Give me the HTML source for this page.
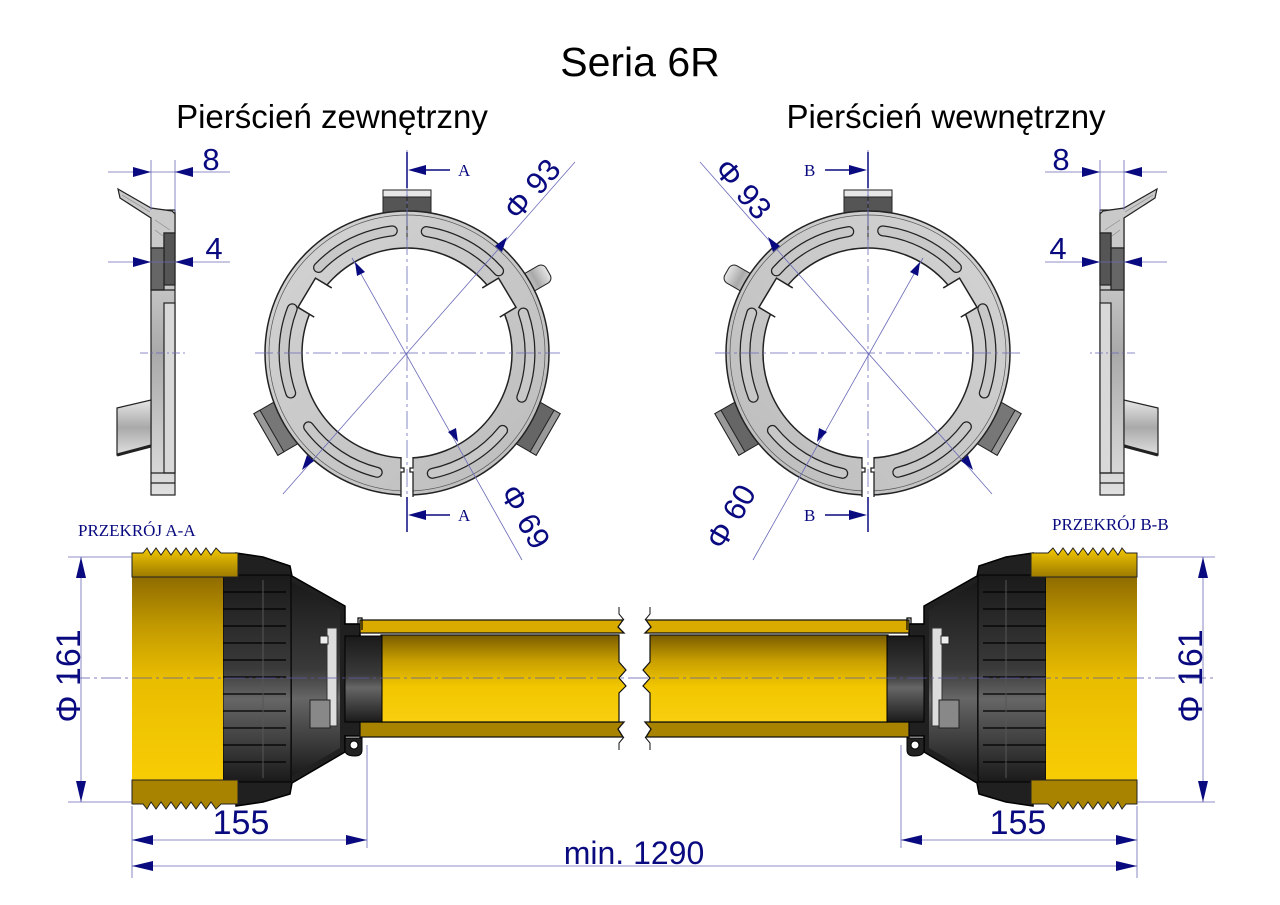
<!DOCTYPE html>
<html><head><meta charset="utf-8"><style>
html,body{margin:0;padding:0;background:#fff;}
svg{display:block;}
</style></head><body>
<svg width="1280" height="905" viewBox="0 0 1280 905" xmlns="http://www.w3.org/2000/svg">
<defs>
<linearGradient id="gy" x1="0" y1="0" x2="0" y2="1">
<stop offset="0" stop-color="#8d6a00"/><stop offset="0.25" stop-color="#c29a00"/><stop offset="0.5" stop-color="#e9bd00"/><stop offset="1" stop-color="#f8cd05"/></linearGradient>
<linearGradient id="gt" x1="0" y1="0" x2="0" y2="1">
<stop offset="0" stop-color="#7a5c00"/><stop offset="0.3" stop-color="#c9a000"/><stop offset="0.6" stop-color="#f2c700"/><stop offset="1" stop-color="#f8cf10"/></linearGradient>
<linearGradient id="gth" x1="0" y1="0" x2="0" y2="1">
<stop offset="0" stop-color="#f3c800"/><stop offset="1" stop-color="#9c7a00"/></linearGradient>
<linearGradient id="gk" x1="0" y1="0" x2="0" y2="1">
<stop offset="0" stop-color="#1a1a1a"/><stop offset="0.45" stop-color="#3a3a3a"/><stop offset="0.6" stop-color="#666"/><stop offset="1" stop-color="#1a1a1a"/></linearGradient>
<linearGradient id="gr" x1="0" y1="0" x2="1" y2="1">
<stop offset="0" stop-color="#d4d4d4"/><stop offset="1" stop-color="#bcbcbc"/></linearGradient>
<linearGradient id="gp" x1="0" y1="0" x2="0" y2="1">
<stop offset="0" stop-color="#e6e6e6"/><stop offset="0.5" stop-color="#a9a9a9"/><stop offset="1" stop-color="#e0e0e0"/></linearGradient>

<g id="ring">
 <g stroke="#222" stroke-width="1">
  <g><rect x="383" y="190" width="48" height="25" fill="#555"/><rect x="383" y="190" width="48" height="7" fill="#e6e6e6"/></g>
  <g transform="rotate(240 407 353)"><rect x="383" y="190" width="48" height="25" fill="#777"/><rect x="383" y="190" width="48" height="7" fill="#999"/></g>
  <g transform="rotate(120 407 353)"><rect x="383" y="190" width="48" height="25" fill="#666"/><rect x="383" y="190" width="48" height="7" fill="#999"/></g>
  <g transform="rotate(60 407 353)"><rect x="397" y="190" width="20" height="30" rx="6" fill="url(#gp)"/></g>
 </g>
 <circle cx="407" cy="353" r="142" fill="url(#gr)" stroke="#222" stroke-width="1.5"/>
 <circle cx="407" cy="353" r="138" fill="none" stroke="#555" stroke-width="0.7"/>
 <circle cx="407" cy="353" r="105" fill="#fff" stroke="#222" stroke-width="1.5"/>
 <g fill="#fff" stroke="#222" stroke-width="1.5">
  <path transform="rotate(-149 407 353)" d="M505,336 H524 V370 H505"/>
  <path transform="rotate(-31 407 353)" d="M505,336 H524 V370 H505"/>
 </g>
 <rect x="401" y="455" width="12" height="45" fill="#fff"/>
 <path d="M401,457 V468 H404 V472 H401 V497 M413,457 V468 H410 V472 H413 V497" fill="none" stroke="#222" stroke-width="1.3"/>
 <g fill="none" stroke-linecap="round">
  <g stroke="#222" stroke-width="11">
   <circle cx="407" cy="353" r="123" stroke-dasharray="84 900" transform="rotate(-136 407 353)"/>
   <circle cx="407" cy="353" r="123" stroke-dasharray="84 900" transform="rotate(-81 407 353)"/>
   <circle cx="407" cy="353" r="123" stroke-dasharray="86 900" transform="rotate(161 407 353)"/>
   <circle cx="407" cy="353" r="123" stroke-dasharray="86 900" transform="rotate(-19 407 353)"/>
   <circle cx="407" cy="353" r="123" stroke-dasharray="84 900" transform="rotate(104 407 353)"/>
   <circle cx="407" cy="353" r="123" stroke-dasharray="84 900" transform="rotate(39 407 353)"/>
  </g>
  <g stroke="#c8c8c8" stroke-width="8.5">
   <circle cx="407" cy="353" r="123" stroke-dasharray="84 900" transform="rotate(-136 407 353)"/>
   <circle cx="407" cy="353" r="123" stroke-dasharray="84 900" transform="rotate(-81 407 353)"/>
   <circle cx="407" cy="353" r="123" stroke-dasharray="86 900" transform="rotate(161 407 353)"/>
   <circle cx="407" cy="353" r="123" stroke-dasharray="86 900" transform="rotate(-19 407 353)"/>
   <circle cx="407" cy="353" r="123" stroke-dasharray="84 900" transform="rotate(104 407 353)"/>
   <circle cx="407" cy="353" r="123" stroke-dasharray="84 900" transform="rotate(39 407 353)"/>
  </g>
 </g>
 <line x1="407" y1="195" x2="407" y2="240" stroke="#222" stroke-width="1"/>
 <g stroke="#6a6ab8" stroke-width="0.8" stroke-dasharray="18 4 3 4" fill="none">
  <line x1="407" y1="150" x2="407" y2="530"/>
  <line x1="255" y1="353" x2="560" y2="353"/>
 </g>
 <g stroke="#6a6ab8" stroke-width="0.8">
  <line x1="575" y1="162" x2="283" y2="494"/>
  <line x1="352" y1="258" x2="522" y2="560"/>
 </g>
 <g fill="#0a0a80">
  <polygon points="507,237 495,246 502,252"/>
  <polygon points="302,470 314,461 307,455"/>
  <polygon points="355,262 357,276 365,272"/>
  <polygon points="458,442 456,428 448,432"/>
 </g>
 <g stroke="#0a0a80" stroke-width="1.5">
  <line x1="407" y1="152" x2="407" y2="188"/>
  <line x1="420" y1="170" x2="450" y2="170"/>
  <line x1="407" y1="497" x2="407" y2="532"/>
  <line x1="420" y1="515" x2="450" y2="515"/>
 </g>
 <g fill="#0a0a80">
  <polygon points="408,170 426,165 426,175"/>
  <polygon points="408,515 426,510 426,520"/>
 </g>
</g>

<g id="prof">
 <g stroke="#222" stroke-width="1.2">
  <rect x="151" y="210" width="24" height="285" fill="url(#gp)"/>
  <polygon points="118,189 151,208 172,211 175,214 175,233 164,233 164,248 151,248 151,218 120,198" fill="#c9c9c9"/>
  <rect x="164" y="233" width="11" height="52" fill="#555"/>
  <rect x="151" y="248" width="13" height="42" fill="#666"/>
  <rect x="164" y="303" width="11" height="170" fill="#d8d8d8"/>
  <polygon points="117,408 151,400 151,445 117,455" fill="url(#gp)"/>
  <line x1="117" y1="455" x2="151" y2="446" stroke-width="3"/>
  <line x1="151" y1="473" x2="175" y2="473"/>
  <line x1="151" y1="483" x2="175" y2="483"/>
  <line x1="151" y1="290" x2="175" y2="290"/>
 </g>
 <g stroke="#888" stroke-width="0.6"><line x1="122" y1="195" x2="150" y2="212"/><line x1="155" y1="220" x2="170" y2="230"/><line x1="155" y1="230" x2="163" y2="236"/></g>
 <line x1="140" y1="353" x2="185" y2="353" stroke="#6a6ab8" stroke-width="0.7" stroke-dasharray="8 3 2 3"/>
 <g stroke="#6a6ab8" stroke-width="0.8">
  <line x1="151" y1="160" x2="151" y2="210"/><line x1="175" y1="160" x2="175" y2="212"/>
  <line x1="108" y1="172" x2="230" y2="172"/>
  <line x1="108" y1="262" x2="230" y2="262"/>
 </g>
 <g fill="#0a0a80">
  <polygon points="151,172 133,167 133,177"/><polygon points="175,172 193,167 193,177"/>
  <polygon points="151,262 133,257 133,267"/><polygon points="175,262 193,257 193,267"/>
 </g>
</g>

<g id="asm">
 <path d="M236,553 L263,557 L290,566 L292,576 L345,606 L345,624 L360,624 L360,736 L345,736 L345,752 L292,783 L290,794 L263,802 L236,806 Z" fill="#202020" stroke="#000" stroke-width="1.5"/>
 <path d="M292,582 L340,610 L340,748 L292,776 Z" fill="url(#gk)"/>
 <rect x="223" y="575" width="68" height="207" fill="url(#gk)" stroke="#000"/>
 <g stroke="#000" stroke-width="1.3">
  <line x1="223" y1="592" x2="286" y2="592"/><line x1="223" y1="609" x2="286" y2="609"/><line x1="223" y1="626" x2="286" y2="626"/>
  <line x1="223" y1="643" x2="286" y2="643"/><line x1="223" y1="660" x2="286" y2="660"/><line x1="223" y1="677" x2="286" y2="677"/>
  <line x1="223" y1="694" x2="286" y2="694"/><line x1="223" y1="711" x2="286" y2="711"/><line x1="223" y1="728" x2="286" y2="728"/>
  <line x1="223" y1="745" x2="286" y2="745"/><line x1="223" y1="762" x2="286" y2="762"/>
 </g>
 <line x1="263" y1="580" x2="263" y2="778" stroke="#555" stroke-width="1"/>
 <rect x="327" y="628" width="10" height="98" fill="#ddd" stroke="#333"/>
 <rect x="310" y="700" width="20" height="28" fill="#888" stroke="#222"/>
 <rect x="320" y="636" width="8" height="8" fill="#eee" stroke="#222"/>
 <rect x="132" y="575" width="91" height="207" fill="url(#gy)"/>
 <path d="M132,553 H143 L147,548 L151,555 L156,548 L161,555 L166,548 L171,555 L176,548 L181,555 L186,548 L191,555 L196,548 L201,555 L206,548 L211,555 L216,548 L221,553 H238 V577 H132 Z" fill="url(#gth)" stroke="#222" stroke-width="1"/>
 <path d="M132,780 H238 V804 H221 L216,809 L211,802 L206,809 L201,802 L196,809 L191,802 L186,809 L181,802 L176,809 L171,802 L166,809 L161,802 L156,809 L151,802 L147,809 L143,804 H132 Z" fill="#a88300" stroke="#222" stroke-width="1"/>
 <path d="M360,620 H623 L618,627 L624,633 H360 Z" fill="#d9ab00" stroke="#111" stroke-width="1.3"/>
 <path d="M360,722 H624 L618,729 L623,737 H360 Z" fill="#a88300" stroke="#111" stroke-width="1.3"/>
 <path d="M381,635 H619 L619,662 L626,670 L619,678 L626,686 L619,693 V722 H381 Z" fill="url(#gt)" stroke="#111" stroke-width="1.2"/>
 <rect x="345" y="636" width="37" height="86" fill="url(#gk)" stroke="#000"/>
 <path d="M345,738 H362 V750 Q362,756 355,756 Q345,756 345,750 Z" fill="#222" stroke="#000"/>
 <circle cx="354" cy="745" r="4" fill="#fff" stroke="#000"/>
 <path d="M345,624 H358 V618 H362 V630" fill="none" stroke="#000" stroke-width="1.2"/>
 <path d="M619,607 V614 L624,620 M619,750 V743 L624,737" fill="none" stroke="#111" stroke-width="1"/>
</g>
</defs>

<g font-family="Liberation Sans, sans-serif" fill="#000" text-anchor="middle">
 <text x="640" y="76" font-size="41">Seria 6R</text>
 <text x="332" y="128" font-size="33">Pierścień zewnętrzny</text>
 <text x="946" y="128" font-size="33">Pierścień wewnętrzny</text>
</g>

<use href="#ring"/>
<use href="#ring" transform="translate(1275,0) scale(-1,1)"/>
<use href="#prof"/>
<use href="#prof" transform="translate(1275,0) scale(-1,1)"/>
<use href="#asm"/>
<use href="#asm" transform="translate(1269,0) scale(-1,1)"/>

<line x1="70" y1="678" x2="1215" y2="678" stroke="#5a5aa8" stroke-width="0.8" stroke-dasharray="20 4 3 4"/>

<g font-family="Liberation Sans, sans-serif" fill="#0a0a80" font-size="31">
 <text transform="translate(540,196) rotate(-49)" text-anchor="middle">Φ 93</text>
 <text transform="translate(516,522) rotate(60)" text-anchor="middle">Φ 69</text>
 <text transform="translate(735,196) rotate(49)" text-anchor="middle">Φ 93</text>
 <text transform="translate(740,522) rotate(-60)" text-anchor="middle">Φ 60</text>
 <text x="211" y="170" text-anchor="middle">8</text>
 <text x="214" y="259" text-anchor="middle">4</text>
 <text x="1061" y="170" text-anchor="middle">8</text>
 <text x="1058" y="259" text-anchor="middle">4</text>
</g>
<g font-family="Liberation Serif, serif" fill="#0a0a80" font-size="17">
 <text x="458" y="176">A</text>
 <text x="458" y="521">A</text>
 <text x="804" y="176">B</text>
 <text x="804" y="521">B</text>
 <text x="78" y="536">PRZEKRÓJ A-A</text>
 <text x="1052" y="530">PRZEKRÓJ B-B</text>
</g>

<g stroke="#6a6ab8" stroke-width="0.8">
 <line x1="68" y1="557" x2="132" y2="557"/><line x1="68" y1="802" x2="132" y2="802"/>
 <line x1="81" y1="557" x2="81" y2="802"/>
 <line x1="1137" y1="557" x2="1215" y2="557"/><line x1="1137" y1="802" x2="1215" y2="802"/>
 <line x1="1203" y1="557" x2="1203" y2="802"/>
 <line x1="132" y1="806" x2="132" y2="878"/><line x1="1137" y1="806" x2="1137" y2="878"/>
 <line x1="367" y1="745" x2="367" y2="848"/><line x1="901" y1="745" x2="901" y2="848"/>
 <line x1="132" y1="840" x2="367" y2="840"/><line x1="901" y1="840" x2="1137" y2="840"/>
 <line x1="132" y1="866" x2="1137" y2="866"/>
</g>
<g fill="#0a0a80">
 <polygon points="81,557 76,578 86,578"/><polygon points="81,802 76,781 86,781"/>
 <polygon points="1203,557 1198,578 1208,578"/><polygon points="1203,802 1198,781 1208,781"/>
 <polygon points="132,840 153,835 153,845"/><polygon points="367,840 346,835 346,845"/>
 <polygon points="901,840 922,835 922,845"/><polygon points="1137,840 1116,835 1116,845"/>
 <polygon points="132,866 153,861 153,871"/><polygon points="1137,866 1116,861 1116,871"/>
</g>
<g font-family="Liberation Sans, sans-serif" fill="#0a0a80" font-size="34" text-anchor="middle">
 <text transform="translate(80,676) rotate(-90)">Φ 161</text>
 <text transform="translate(1202,676) rotate(-90)">Φ 161</text>
 <text x="241" y="834">155</text>
 <text x="1018" y="834">155</text>
 <text x="634" y="864" font-size="32">min.  1290</text>
</g>
</svg>
</body></html>
